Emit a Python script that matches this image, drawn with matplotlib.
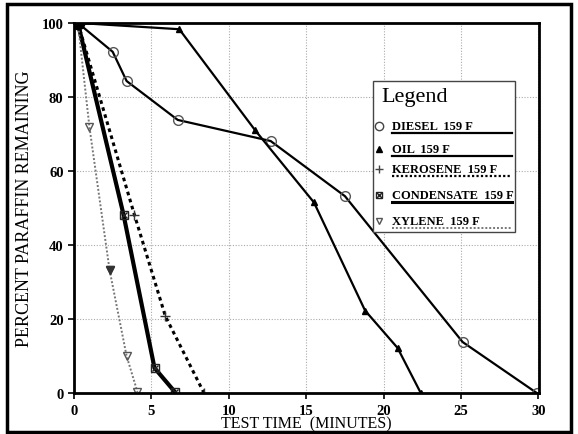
import matplotlib.pyplot as plt
from matplotlib.patches import Rectangle

# data
diesel_t = [0.25, 2.5, 3.4, 6.7, 12.7, 17.5, 25.1, 29.9]
diesel_p = [100, 92.2, 84.3, 73.8, 68.1, 53.2, 13.8, 0]

oil_t = [0.25, 6.8, 11.7, 15.5, 18.8, 20.9, 22.4]
oil_p = [100, 98.3, 71, 51.5, 22.3, 12.2, 0]

kero_t = [0.25, 3.9, 5.9, 8.4]
kero_p = [100, 48.2, 20.8, 0]

cond_t = [0.25, 3.2, 5.2, 6.5]
cond_p = [100, 48.2, 6.8, 0.4]

xyl_t = [0.25, 1.0, 2.3, 3.4, 4.1]
xyl_p = [100, 71.8, 33.2, 10.0, 0.3]

legend_labels = ["DIESEL  159 F", "OIL  159 F", "KEROSENE  159 F",
                 "CONDENSATE  159 F", "XYLENE  159 F"]

plt.rcParams['font.family'] = ['Liberation Serif', 'DejaVu Serif']

fig = plt.figure(figsize=(5.78, 4.35), dpi=100)
ax = fig.add_axes([0.128, 0.094, 0.805, 0.851])

ax.plot(diesel_t, diesel_p, color='black', lw=1.6, marker='o', ms=7,
        mfc='none', mec='#555555', mew=1.0)
ax.plot(oil_t, oil_p, color='black', lw=1.6, marker='^', ms=5,
        mfc='black', mec='black')
ax.plot(kero_t, kero_p, color='black', lw=2.2, ls=(0, (1.2, 1.2)),
        marker='+', ms=7, mec='#333333', mew=1.0)
ax.plot(cond_t, cond_p, color='black', lw=3.0, solid_capstyle='round')
ax.plot(cond_t, cond_p, ls='none', marker='s', ms=6, mfc='none', mec='#222222', mew=1.0)
ax.plot(cond_t, cond_p, ls='none', marker='x', ms=5, mec='#222222', mew=1.0)
ax.plot(xyl_t, xyl_p, color='#777777', lw=1.4, ls=(0, (1, 1)),
        marker='v', ms=6, mfc='none', mec='#555555', mew=1.0)
ax.plot(xyl_t[2], xyl_p[2], ls='none', marker='v', ms=6, color='#333333')
# start blob
ax.plot(xyl_t[0], xyl_p[0], ls='none', marker='o', ms=9, color='black')

ax.set_xlim(0, 30.05)
ax.set_ylim(0, 100)
ax.set_xticks([0, 5, 10, 15, 20, 25, 30])
ax.set_yticks([0, 20, 40, 60, 80, 100])
ax.grid(True, color='#aaaaaa', ls=(0, (1, 1.5)), lw=0.8)
ax.tick_params(direction='out', length=4, width=1.2, labelsize=10.5)
for lab in ax.get_xticklabels() + ax.get_yticklabels():
    lab.set_fontweight('bold')
for s in ax.spines.values():
    s.set_linewidth(2.0)
ax.set_xlabel('TEST TIME  (MINUTES)', fontsize=11.5, labelpad=-1)
ax.set_ylabel('PERCENT PARAFFIN REMAINING', fontsize=13, labelpad=6)

# hand-drawn legend box, styled like the scanned original
tr = ax.transAxes
ax.add_patch(Rectangle((0.643, 0.435), 0.305, 0.408, transform=tr,
                       facecolor='white', edgecolor='#444444', lw=1.0, zorder=5))
ax.text(0.660, 0.800, 'Legend', transform=tr, fontsize=16, va='center', zorder=6)
styles = [
    dict(color='black', lw=1.6, ls='-'),
    dict(color='black', lw=1.6, ls='-'),
    dict(color='black', lw=1.6, ls=(0, (1, 1))),
    dict(color='black', lw=2.2, ls='-'),
    dict(color='#777777', lw=1.4, ls=(0, (1, 1))),
]
markers = [
    dict(marker='o', ms=6, mfc='none', mec='#444444'),
    dict(marker='^', ms=4, mfc='black', mec='black'),
    dict(marker='+', ms=6, mec='#444444'),
    dict(marker='s', ms=5, mfc='none', mec='#222222'),
    dict(marker='v', ms=5, mfc='none', mec='#555555'),
]
rows = [0.722, 0.659, 0.605, 0.535, 0.465]
for y, lab, st, mk in zip(rows, legend_labels, styles, markers):
    ax.plot([0.655], [y], transform=tr, ls='none', zorder=6, clip_on=False, **mk)
    if mk['marker'] == 's':
        ax.plot([0.655], [y], transform=tr, ls='none', marker='x', ms=4,
                mec='#222222', zorder=6, clip_on=False)
    ax.text(0.684, y, lab, transform=tr, fontsize=9, fontweight='bold',
            va='center', zorder=6)
    ax.plot([0.684, 0.942], [y - 0.019, y - 0.019], transform=tr, zorder=6, **st)

# outer frame around the whole picture
fig.patches.append(Rectangle((0.012, 0.005), 0.976, 0.983, transform=fig.transFigure,
                             fill=False, edgecolor='black', lw=2.5))

plt.savefig('out.png', dpi=100)
